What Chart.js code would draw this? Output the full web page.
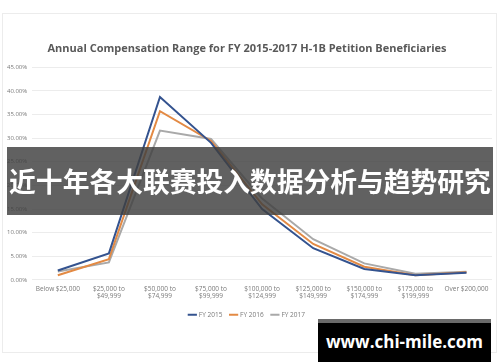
<!DOCTYPE html>
<html>
<head>
<meta charset="utf-8">
<script src="https://cdn.jsdelivr.net/npm/chart.js@4"></script>
<style>
  html, body { margin: 0; padding: 0; background: #ffffff; }
  #wrap { position: relative; width: 500px; height: 362px; overflow: hidden; background: #fff; }
  #frame { position: absolute; left: 2px; top: 13px; width: 495px; height: 340px; border: 1px solid #ececec; box-sizing: border-box; }
  canvas { position: absolute; left: 0; top: 0; }
  #band { position: absolute; left: 7px; top: 147px; width: 486px; height: 68px; background: rgba(62,62,62,0.82); overflow: hidden; }
  #bandText { position: absolute; left: 0; top: 0; height: 68px; line-height: 68px; color: #fff;
          font-family: "Noto Sans CJK SC", sans-serif; font-weight: 700; font-size: 29px; white-space: nowrap; }
  #wm { position: absolute; left: 318px; top: 319px; width: 173px; height: 43px; background: #000;
        border-top: 4px solid #6a6a6a; box-sizing: border-box; color: #fff; font-family: "Open Sans", sans-serif;
        font-weight: 700; font-size: 17px; line-height: 38px; text-align: center; white-space: nowrap; }
</style>
</head>
<body>
<div id="wrap">
  <div id="frame"></div>
  <canvas id="c" width="500" height="362"></canvas>
  <div id="band"><span id="bandText">近十年各大联赛投入数据分析与趋势研究</span></div>
  <div id="wm">www.chi-mile.com</div>
</div>
<script>
const categories = [
  "Below $25,000",
  ["$25,000 to", "$49,999"],
  ["$50,000 to", "$74,999"],
  ["$75,000 to", "$99,999"],
  ["$100,000 to", "$124,999"],
  ["$125,000 to", "$149,999"],
  ["$150,000 to", "$174,999"],
  ["$175,000 to", "$199,999"],
  "Over $200,000"
];
const fy2015 = [2.0, 5.6, 38.7, 29.0, 15.0, 6.7, 2.3, 1.0, 1.5];
const fy2016 = [1.0, 4.4, 35.7, 29.4, 16.0, 7.6, 2.8, 1.0, 1.6];
const fy2017 = [1.8, 3.7, 31.6, 29.8, 17.2, 8.6, 3.5, 1.3, 1.7];
const yTicks = [0, 5, 10, 15, 20, 25, 30, 35, 40, 45];
const titleText = "Annual Compensation Range for FY 2015-2017 H-1B Petition Beneficiaries";

// fit the banner text to the band width
(function () {
  const t = document.getElementById('bandText');
  const target = 482;
  const w = t.getBoundingClientRect().width;
  const size = 29 * target / w;
  t.style.fontSize = size + 'px';
  const w2 = t.getBoundingClientRect().width;
  t.style.left = ((486 - w2) / 2) + 'px';
})();

new Chart(document.getElementById('c'), {
  type: 'line',
  data: {
    labels: categories,
    datasets: [
      { label: 'FY 2015', data: fy2015, borderColor: '#34538f', backgroundColor: '#34538f', borderWidth: 2, pointRadius: 0, tension: 0 },
      { label: 'FY 2016', data: fy2016, borderColor: '#e38a44', backgroundColor: '#e38a44', borderWidth: 2, pointRadius: 0, tension: 0 },
      { label: 'FY 2017', data: fy2017, borderColor: '#a9a9a9', backgroundColor: '#a9a9a9', borderWidth: 2, pointRadius: 0, tension: 0 }
    ]
  },
  options: {
    responsive: false,
    animation: false,
    devicePixelRatio: 1,
    layout: { padding: { left: 2, right: 8, top: 42, bottom: 34 } },
    plugins: {
      title: { display: true, text: titleText, color: '#595959', font: { family: 'Open Sans', size: 11, weight: 'bold' }, padding: { top: 0, bottom: 12 } },
      legend: {
        position: 'bottom',
        labels: { usePointStyle: true, pointStyle: 'line', boxWidth: 20, color: '#7a7a7a', font: { family: 'Open Sans', size: 6.5 }, padding: 8 }
      },
      tooltip: { enabled: false }
    },
    scales: {
      x: {
        offset: true,
        grid: { display: false, drawTicks: false },
        border: { display: false },
        afterFit: (s) => { s.height -= 2; },
        ticks: { color: '#7a7a7a', font: { family: 'Open Sans', size: 6.5 }, maxRotation: 0, autoSkip: false, padding: 5 }
      },
      y: {
        min: 0, max: 45,
        afterBuildTicks: (s) => { s.ticks = yTicks.map(v => ({ value: v })); },
        grid: { color: '#ececec', drawTicks: false },
        border: { display: false },
        ticks: { color: '#7a7a7a', font: { family: 'Open Sans', size: 6 }, padding: 5, callback: (v) => v.toFixed(2) + '%' }
      }
    }
  }
});
</script>
</body>
</html>
